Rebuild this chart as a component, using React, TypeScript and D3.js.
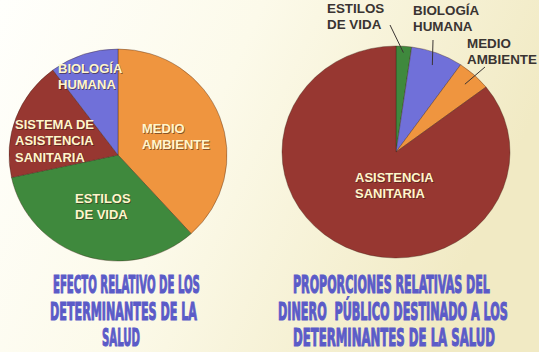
import React, { useEffect, useRef } from 'react';
import * as d3 from 'd3';

const W = 539;
const H = 352;

// left pie: relative effect of the health determinants (clockwise from 12 o'clock)
const effectLabels = [["MEDIO", "AMBIENTE"], ["ESTILOS", "DE VIDA"], ["SISTEMA DE", "ASISTENCIA", "SANITARIA"], ["BIOLOGÍA", "HUMANA"]];
const effectValues = [38.3, 33.3, 18.2, 10.2];
const effectColors = ["#EF953F", "#3F893D", "#973731", "#7070D9"];
const effectTitle = ["EFECTO RELATIVO DE LOS", "DETERMINANTES DE LA", "SALUD"];

// right pie: share of public money
const spendLabels = [["ESTILOS", "DE VIDA"], ["BIOLOGÍA", "HUMANA"], ["MEDIO", "AMBIENTE"], ["ASISTENCIA", "SANITARIA"]];
const spendValues = [2.2, 7.4, 4.9, 85.5];
const spendColors = ["#3F893D", "#7070D9", "#EF953F", "#973731"];
const spendTitle = ["PROPORCIONES RELATIVAS DEL", "DINERO  PÚBLICO DESTINADO A LOS", "DETERMINANTES DE LA SALUD"];

// layout (label offsets are relative to each pie's centre)
const charts = [
  {
    labels: effectLabels, values: effectValues, colors: effectColors, title: effectTitle,
    cx: 118, cy: 155, rx: 109, ry: 106,
    labelPos: [[24, -22], [-43, 48], [-103, -26], [-60, -82]],
    labelFill: ["#FFF6CC", "#FFF6CC", "#FFF6CC", "#FFF6CC"],
    leaders: [null, null, null, null],
    titleX: [53, 50, 102], titleLen: [147, 147, 38]
  },
  {
    labels: spendLabels, values: spendValues, colors: spendColors, title: spendTitle,
    cx: 396, cy: 152, rx: 114, ry: 106,
    labelPos: [[-69, -139], [17, -137], [71, -104], [-41, 30]],
    labelFill: ["#3A3432", "#3A3432", "#3A3432", "#FFF6CC"],
    leaders: [[-6, -127, 0.94], [37, -112, 0.88], [89, -85, 0.88], null],
    titleX: [293, 278, 293], titleLen: [197, 230, 202]
  }
];

const App = () => {
  const svgRef = useRef<SVGSVGElement>(null);

  useEffect(() => {
    const svg = d3.select(svgRef.current);
    svg.selectAll("*").remove();

    const defs = svg.append("defs");
    const grad = defs.append("linearGradient")
      .attr("id", "bg").attr("x1", 0).attr("y1", 0).attr("x2", 1).attr("y2", 0.3);
    grad.append("stop").attr("offset", "0%").attr("stop-color", "#FFFFFC");
    grad.append("stop").attr("offset", "45%").attr("stop-color", "#FCFAEA");
    grad.append("stop").attr("offset", "100%").attr("stop-color", "#F1EAC4");

    svg.append("rect").attr("width", W).attr("height", H).attr("fill", "url(#bg)");

    charts.forEach(c => {
      const sx = c.rx / c.ry;
      const pie = d3.pie<number>().sort(null).value(d => d);
      const arcs = pie(c.values);
      const arc = d3.arc<d3.PieArcDatum<number>>().innerRadius(0).outerRadius(c.ry);

      const g = svg.append("g")
        .attr("transform", `translate(${c.cx},${c.cy}) scale(${sx},1)`);

      g.selectAll("path")
        .data(arcs)
        .enter().append("path")
        .attr("d", arc)
        .attr("fill", (d, i) => c.colors[i])
        .attr("stroke", "rgba(60,30,20,0.45)")
        .attr("stroke-width", 0.8)
        .attr("vector-effect", "non-scaling-stroke");

      // leader lines
      arcs.forEach((d, i) => {
        const l = c.leaders[i];
        if (!l) return;
        const a = (d.startAngle + d.endAngle) / 2;
        const r = c.ry * l[2];
        svg.append("line")
          .attr("x1", c.cx + l[0]).attr("y1", c.cy + l[1])
          .attr("x2", c.cx + Math.sin(a) * r * sx).attr("y2", c.cy - Math.cos(a) * r)
          .attr("stroke", "#3A3432").attr("stroke-width", 1);
      });

      // slice labels
      c.labels.forEach((lines, i) => {
        const [ox, oy] = c.labelPos[i];
        const light = c.labelFill[i] !== "#3A3432";
        lines.forEach((t, j) => {
          const x = c.cx + ox;
          const y = c.cy + oy + j * 16.3;
          if (light) {
            svg.append("text")
              .attr("x", x + 0.8).attr("y", y + 0.8)
              .style("font-family", "'Liberation Sans', Arial, sans-serif")
              .style("font-weight", "bold").style("font-size", "13px")
              .style("fill", "rgba(50,25,20,0.55)")
              .text(t);
          }
          svg.append("text")
            .attr("x", x).attr("y", y)
            .style("font-family", "'Liberation Sans', Arial, sans-serif")
            .style("font-weight", "bold").style("font-size", light ? "13px" : "13.4px")
            .style("fill", c.labelFill[i])
            .text(t);
        });
      });

      // title: condensed heavy lettering, squeezed to the reference widths
      c.title.forEach((t, j) => {
        const txt = svg.append("text")
          .attr("x", 0).attr("y", 0)
          .style("white-space", "pre")
          .style("font-family", "'Liberation Sans Narrow', 'DejaVu Sans Condensed', sans-serif")
          .style("font-weight", "bold").style("font-size", "24px")
          .style("fill", "#5B5BC8")
          .style("stroke", "#5B5BC8").style("stroke-width", 1.1)
          .text(t);
        const node = txt.node() as SVGTextElement;
        const natural = node.getComputedTextLength() || c.titleLen[j];
        const kx = c.titleLen[j] / natural;
        txt.attr("transform", `translate(${c.titleX[j]},${293 + j * 26.5}) scale(${kx},1.05)`);
      });
    });
  }, []);

  return (
    <svg ref={svgRef} width={W} height={H}
      style={{ position: 'absolute', left: 0, top: 0, display: 'block' }} />
  );
};

export default App;
